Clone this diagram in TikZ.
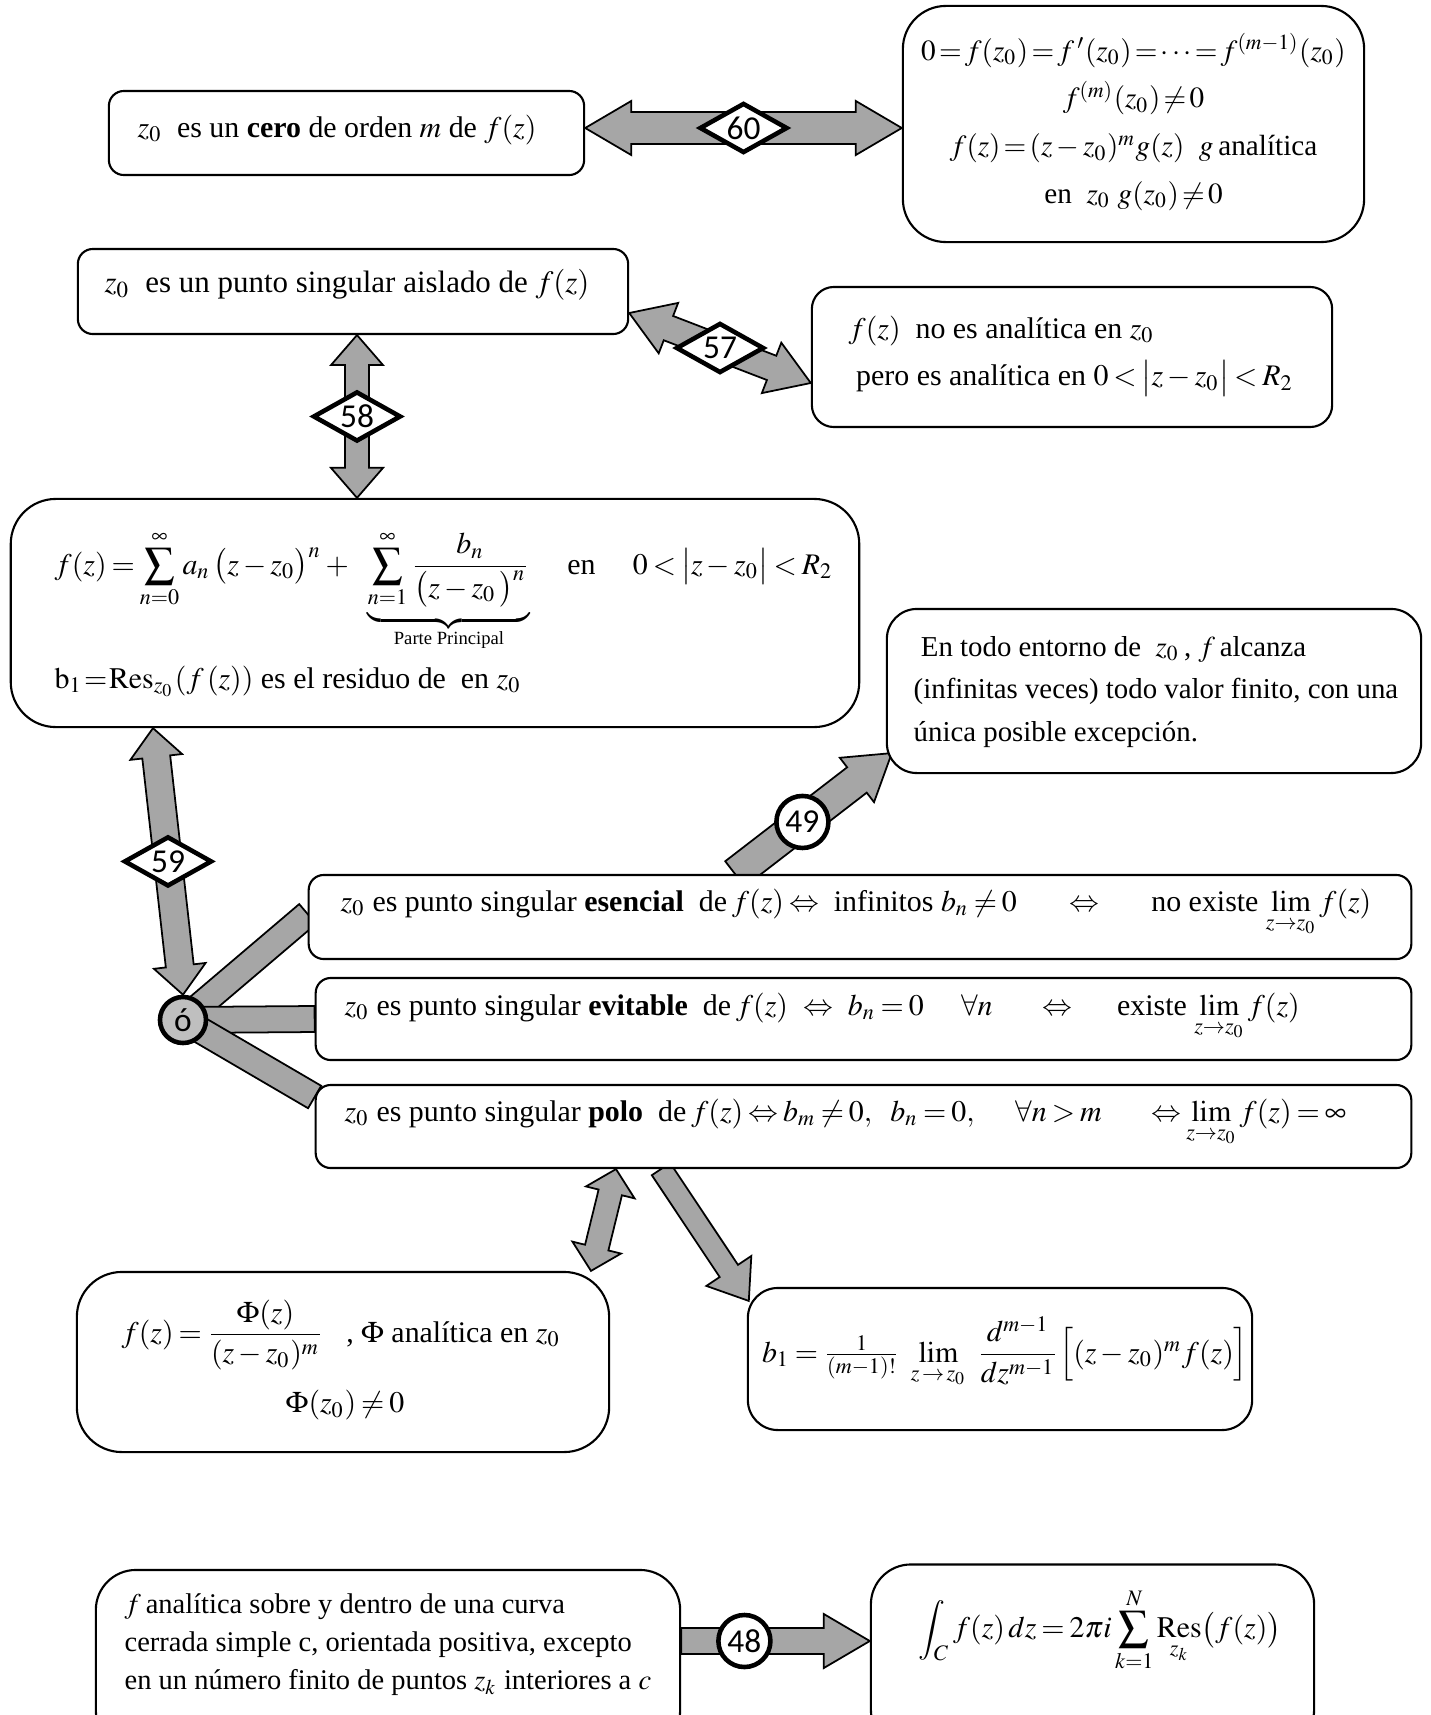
\documentclass[tikz,border=0pt]{standalone}
\usepackage{amsmath}
\usepackage{mathptmx}
\usepackage[no-math]{fontspec}
\setmainfont{Liberation Serif}
\newfontfamily\numfont{Carlito}
\usetikzlibrary{calc, shapes.geometric, backgrounds}
\definecolor{arrgray}{RGB}{166,166,166}
\definecolor{dotgray}{RGB}{191,191,191}
\newcommand{\boxfont}{\fontsize{8.5}{13.5}\selectfont\thickmuskip=3mu plus 1mu\relax\medmuskip=2.5mu\relax}
\newcommand{\tightfont}{\fontsize{8.3}{13.6}\selectfont\thickmuskip=2mu plus 1mu\relax\medmuskip=2.5mu\relax}
% block arrows: from, to, shaft half width, head half width, head length
\newcommand{\onearrow}[5]{%
  \coordinate (hd) at ($(#2)!#5!(#1)$);
  \filldraw[arr] ($(#1)!#3!90:(#2)$) -- ($(hd)!#3!90:(#2)$) -- ($(hd)!#4!90:(#2)$) -- (#2)
    -- ($(hd)!#4!-90:(#2)$) -- ($(hd)!#3!-90:(#2)$) -- ($(#1)!#3!-90:(#2)$) -- cycle;}
\newcommand{\twoarrow}[5]{%
  \coordinate (hd1) at ($(#1)!#5!(#2)$);
  \coordinate (hd2) at ($(#2)!#5!(#1)$);
  \filldraw[arr] (#1) -- ($(hd1)!#4!90:(#2)$) -- ($(hd1)!#3!90:(#2)$) -- ($(hd2)!#3!90:(#2)$)
    -- ($(hd2)!#4!90:(#2)$) -- (#2) -- ($(hd2)!#4!-90:(#2)$) -- ($(hd2)!#3!-90:(#2)$)
    -- ($(hd1)!#3!-90:(#2)$) -- ($(hd1)!#4!-90:(#2)$) -- cycle;}
\newcommand{\wideline}[3]{%
  \filldraw[arr] ($(#1)!#3!90:(#2)$) -- ($(#2)!#3!-90:(#1)$) -- ($(#2)!#3!90:(#1)$) -- ($(#1)!#3!-90:(#2)$) -- cycle;}

\begin{document}
\begin{tikzpicture}[x=0.01cm, y=-0.01cm,
    box/.style={draw, fill=white, semithick, inner sep=0pt},
    arr/.style={draw, fill=arrgray, line width=0.5pt},
    txt/.style={inner sep=0pt, font=\boxfont},
    lbl/.style={draw, diamond, aspect=2, fill=white, line width=1.3pt, inner sep=0pt, minimum width=0.88cm, minimum height=0.5cm, font=\numfont\fontsize{9.5}{9.5}\selectfont},
    circ/.style={draw, circle, fill=white, line width=1.3pt, inner sep=0pt, minimum size=0.52cm, font=\numfont\fontsize{9.5}{9.5}\selectfont}]
\useasboundingbox (0,0) rectangle (1431,1715);

% boxes
\node[box, rounded corners=0.15cm, minimum width=4.75cm, minimum height=0.84cm] (zero) at (346.5,133) {};
\node[box, rounded corners=0.43cm, minimum width=4.61cm, minimum height=2.36cm] (zerocond) at (1133.5,124) {};
\node[box, rounded corners=0.15cm, minimum width=5.50cm, minimum height=0.85cm] (aislado) at (353,291.5) {};
\node[box, rounded corners=0.22cm, minimum width=5.20cm, minimum height=1.40cm] (noanal) at (1072,357) {};
\node[box, rounded corners=0.45cm, minimum width=8.48cm, minimum height=2.28cm] (laurent) at (435,613) {};
\node[box, rounded corners=0.30cm, minimum width=5.34cm, minimum height=1.64cm] (entorno) at (1154,691) {};
\node[box, rounded corners=0.15cm, minimum width=11.02cm, minimum height=0.84cm] (esencial) at (860,917) {};
\node[box, rounded corners=0.15cm, minimum width=10.95cm, minimum height=0.82cm] (evitable) at (863.5,1019) {};
\node[box, rounded corners=0.15cm, minimum width=10.95cm, minimum height=0.83cm] (polo) at (863.5,1126.5) {};
\node[box, rounded corners=0.45cm, minimum width=5.32cm, minimum height=1.80cm] (phi) at (343,1362) {};
\node[box, rounded corners=0.30cm, minimum width=5.04cm, minimum height=1.42cm] (bone) at (1000,1359) {};
\node[box, rounded corners=0.40cm, minimum width=5.84cm, minimum height=1.80cm] (curva) at (388,1660) {};
\node[box, rounded corners=0.40cm, minimum width=4.43cm, minimum height=1.85cm] (integral) at (1092.5,1657) {};

% texts
\node[txt, anchor=west] at (137,130) {$z_0$\ \ es un \textbf{cero} de orden $m$ de $f(z)$};
\node[txt, align=center, font=\tightfont] at (1133.5,122) {$0=f(z_0)=f\,'(z_0)=\cdots=f^{(m-1)}(z_0)$\\ $f^{(m)}(z_0)\neq0$\\ $f(z)=(z-z_0)^m g(z)$\ \ $g$\,analítica\\ en\ \ $z_0$\ $g(z_0)\neq0$};
\node[txt, anchor=west, font=\fontsize{8.8}{13.5}\selectfont] at (104,285) {$z_0$\ \ es un punto singular aislado de $f(z)$};
\node[txt, anchor=west, align=left] at (848,356) {$f(z)$\ \ no es analítica en $z_0$\\ \ pero es analítica en $0<\bigl|z-z_0\bigr|<R_2$};
\node[txt, anchor=base west] at (54,574) {$\displaystyle f(z)=\sum_{n=0}^{\infty}a_n\,\bigl(z-z_0\bigr)^n+\ \ \underbrace{\sum_{n=1}^{\infty}\frac{b_n}{\bigl(z-z_0\,\bigr)^n}}$\quad\ en\quad\ $0<\bigl|z-z_0\bigr|<R_2$};
\node[txt, font=\fontsize{5.3}{6}\selectfont] at (449,640) {Parte Principal};
\node[txt, anchor=base west] at (54,688) {$\mathrm{b}_1\!=\!\operatorname*{Res}_{z_0}(f\,(z))$ es el residuo de\ \ en $z_0$};
\node[txt, anchor=west, align=left, font=\fontsize{8.2}{12.2}\selectfont] at (913,692) {\ En todo entorno de\ \ $z_0$\,, $f$\,alcanza\\(infinitas veces) todo valor finito, con una\\única posible excepción.};
\node[txt, anchor=west] at (340,913) {$z_0$\ es punto singular \textbf{esencial}\ \ de\,$f(z)\Leftrightarrow$\ \ infinitos $b_n\neq0$\quad\ \ \ $\Leftrightarrow$\quad\ \ \ no existe\ $\lim\limits_{z\to z_0}f(z)$};
\node[txt, anchor=west] at (344,1017) {$z_0$\ es punto singular \textbf{evitable}\ \ de\,$f(z)$\ \ $\Leftrightarrow$\ \ $b_n=0\quad\ \forall n\quad\ \ \Leftrightarrow$\quad\ \ existe\ $\lim\limits_{z\to z_0}f(z)$};
\node[txt, anchor=west] at (344,1123) {$z_0$\ es punto singular \textbf{polo}\ \ de\,$f(z)\Leftrightarrow b_m\neq0,\ \ b_n=0,\quad\ \forall n>m\quad\ \ \Leftrightarrow\lim\limits_{z\to z_0}f(z)=\infty$};
\node[txt, anchor=west] at (121,1335) {$f(z)=\dfrac{\Phi(z)}{(z-z_0)^m}$\ \ \ ,\ $\Phi$\ analítica en\ $z_0$};
\node[txt] at (345,1405) {$\Phi(z_0)\neq0$};
\node[txt] at (1005,1352) {$b_1=\frac{1}{(m-1)!}\ \lim\limits_{z\,\to\,z_0}\ \dfrac{d^{m-1}}{dz^{m-1}}\Bigl[(z-z_0)^m f(z)\Bigr]$};
\node[txt, anchor=west, align=left, font=\fontsize{8.1}{10.8}\selectfont] at (124,1645) {$f$\,analítica sobre y dentro de una curva\\cerrada simple c, orientada positiva, excepto\\en un número finito de puntos $z_k$ interiores a $c$};
\node[txt] at (1100,1630) {$\displaystyle\int_C f(z)\,dz=2\pi i\sum_{k=1}^{N}\operatorname*{Res}_{z_k}\bigl(f(z)\bigr)$};

\node[circ, fill=dotgray, minimum size=0.46cm] (oo) at (183,1020) {ó};

% arrow ends
\coordinate (a60) at (zero.east |- 0,128);
\coordinate (b60) at (zerocond.west |- 0,128);
\coordinate (a57) at (aislado.east |- 0,313);
\coordinate (b57) at (noanal.west |- 0,383);
\coordinate (a58) at (aislado.south -| 357,0);
\coordinate (b58) at (laurent.north -| 357,0);
\coordinate (a59) at (laurent.south -| 153,0);
\coordinate (e1) at (esencial.west |- 0,914);
\coordinate (e3) at (polo.west |- 0,1097);
\coordinate (a49) at (esencial.north -| 735,0);
\coordinate (b49) at ([shift={(0.06cm,0.21cm)}]entorno.south west);
\coordinate (a61) at (polo.south -| 616,0);
\coordinate (b61) at (phi.north -| 591,0);
\coordinate (a62) at (polo.south -| 661,0);
\coordinate (b62) at ([shift={(0.02cm,-0.14cm)}]bone.north west);
\coordinate (a48) at (curva.east |- 0,1641);
\coordinate (b48) at (integral.west |- 0,1641);

\begin{scope}[on background layer]
  \twoarrow{a60}{b60}{0.16cm}{0.27cm}{0.46cm}
  \twoarrow{a57}{b57}{0.13cm}{0.27cm}{0.42cm}
  \twoarrow{a58}{b58}{0.12cm}{0.26cm}{0.30cm}
  \twoarrow{a59}{oo.north}{0.14cm}{0.26cm}{0.29cm}
  \wideline{oo.center}{e1}{0.13cm}
  \wideline{oo.center}{evitable.west}{0.13cm}
  \wideline{oo.center}{e3}{0.13cm}
  \onearrow{a49}{b49}{0.16cm}{0.28cm}{0.44cm}
  \twoarrow{a61}{b61}{0.12cm}{0.25cm}{0.24cm}
  \onearrow{a62}{b62}{0.11cm}{0.27cm}{0.36cm}
  \onearrow{a48}{b48}{0.13cm}{0.27cm}{0.46cm}
\end{scope}

% labels
\node[lbl] at ($(a60)!0.5!(b60)$) {60};
\node[lbl] at ($(a57)!0.5!(b57)$) {57};
\node[lbl] at ($(a58)!0.5!(b58)$) {58};
\node[lbl] at ($(a59)!0.5!(oo.north)$) {59};
\node[circ] at ($(a49)!0.43!(b49)$) {49};
\node[circ] at ($(a48)!0.335!(b48)$) {48};
\end{tikzpicture}
\end{document}
